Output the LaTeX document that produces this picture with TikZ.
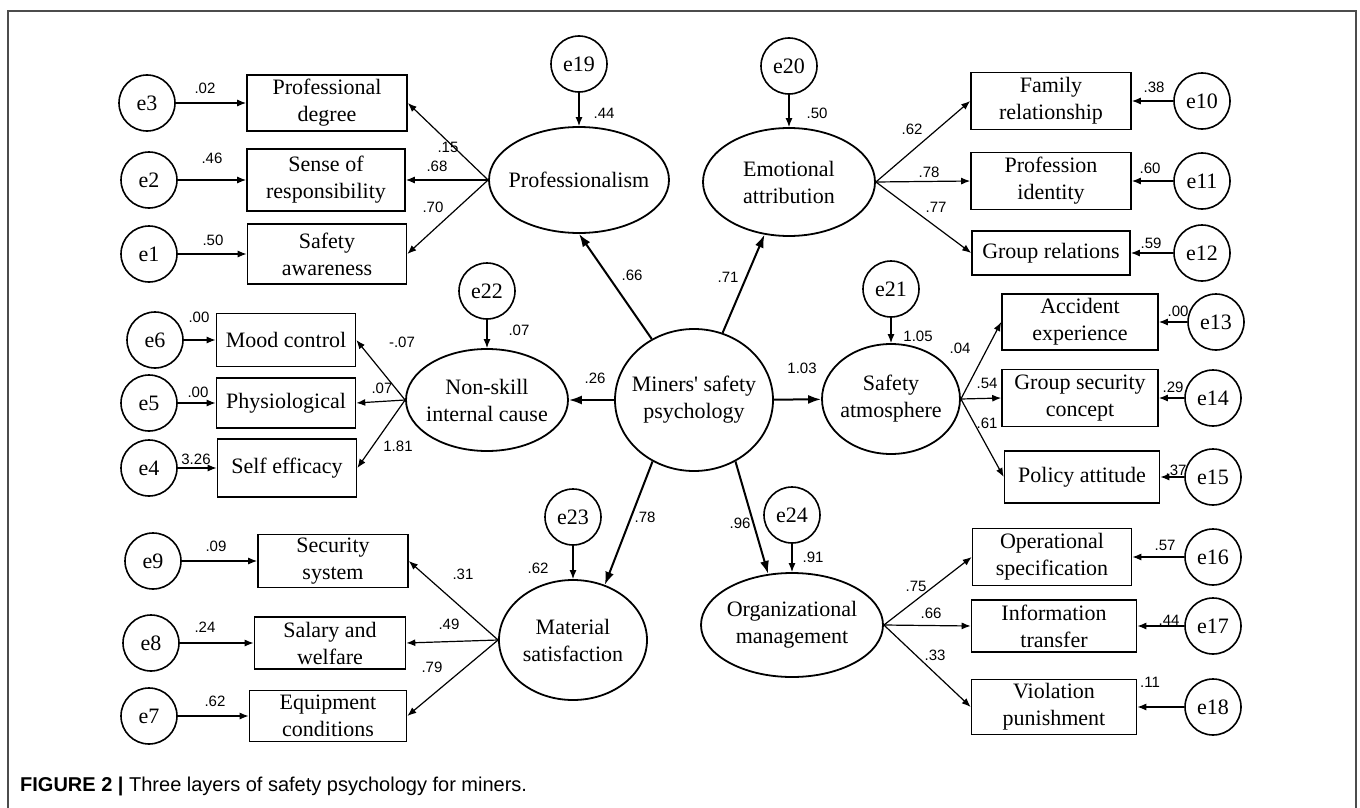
\documentclass[tikz,border=0pt]{standalone}
\usepackage{fontspec}
\setmainfont{Liberation Serif}
\newfontfamily\numfont{Liberation Sans}
\usetikzlibrary{arrows.meta}
\usetikzlibrary{shapes.geometric}

\begin{document}
\begin{tikzpicture}[x=1pt,y=-1pt,
    obs/.style={draw, line width=1.6pt, inner sep=0pt, align=center, font=\fontsize{22}{27}\selectfont},
    err/.style={draw, circle, line width=1.6pt, minimum size=56pt, inner sep=0pt, font=\fontsize{22}{27}\selectfont},
    lat/.style={draw, ellipse, line width=1.8pt, inner sep=-8pt, align=center, font=\fontsize{22}{27}\selectfont},
    num/.style={inner sep=0pt, font=\numfont\fontsize{15}{18}\selectfont},
    arr/.style={-{Latex[length=9pt,width=7pt]}, line width=1.2pt},
    struct/.style={-{Latex[length=13pt,width=9pt]}, line width=2pt}]
  \fill[white] (0,0) rectangle (1360,808);
  \useasboundingbox (0,0) rectangle (1360,808);
  \draw[gray!60!black, line width=1.3pt] (8,808) -- (8,11) -- (1356,11) -- (1356,808);

  % latent variables
  \node[lat, minimum width=158pt, minimum height=142pt] (cen) at (694,400) {Miners\textquotesingle\ safety\\psychology};
  \node[lat, minimum width=180pt, minimum height=106pt] (prof) at (579,180) {Professionalism};
  \node[lat, minimum width=172pt, minimum height=108pt] (emo) at (789,182) {Emotional\\attribution};
  \node[lat, minimum width=162pt, minimum height=102pt] (nonskill) at (487,400) {Non-skill\\internal cause};
  \node[lat, minimum width=138pt, minimum height=110pt] (safe) at (891,399) {Safety\\atmosphere};
  \node[lat, minimum width=148pt, minimum height=120pt] (mat) at (573,640) {Material\\satisfaction};
  \node[lat, minimum width=182pt, minimum height=104pt] (org) at (792,625) {Organizational\\management};

  % observed variables
  \node[obs, minimum width=160pt, minimum height=56pt] (pdeg) at (327,103) {Professional\\degree};
  \node[obs, minimum width=158pt, minimum height=62pt] (sresp) at (326,180) {Sense of\\responsibility};
  \node[obs, minimum width=159pt, minimum height=60pt] (saware) at (327,254) {Safety\\awareness};
  \node[obs, minimum width=139pt, minimum height=53pt] (mood) at (286,340) {Mood control};
  \node[obs, minimum width=139pt, minimum height=50pt] (phys) at (286,403) {Physiological};
  \node[obs, minimum width=139pt, minimum height=58pt] (selfeff) at (287,468) {Self efficacy};
  \node[obs, minimum width=150pt, minimum height=53pt] (secsys) at (333,561) {Security\\system};
  \node[obs, minimum width=151pt, minimum height=52pt] (salary) at (330,643) {Salary and\\welfare};
  \node[obs, minimum width=157pt, minimum height=51pt] (equip) at (328,716) {Equipment\\conditions};
  \node[obs, minimum width=160pt, minimum height=57pt] (family) at (1051,101) {Family\\relationship};
  \node[obs, minimum width=160pt, minimum height=57pt] (profid) at (1051,181) {Profession\\identity};
  \node[obs, minimum width=158pt, minimum height=44pt] (grouprel) at (1051,253) {Group relations};
  \node[obs, minimum width=156pt, minimum height=56pt] (accid) at (1080,322) {Accident\\experience};
  \node[obs, minimum width=156pt, minimum height=57pt] (groupsec) at (1080,398) {Group security\\concept};
  \node[obs, minimum width=155pt, minimum height=52pt] (policy) at (1082,477) {Policy attitude};
  \node[obs, minimum width=159pt, minimum height=57pt] (opspec) at (1052,557) {Operational\\specification};
  \node[obs, minimum width=165pt, minimum height=52pt] (info) at (1054,626) {Information\\transfer};
  \node[obs, minimum width=165pt, minimum height=55pt] (viol) at (1054,707) {Violation\\punishment};

  % error terms
  \foreach \n/\x/\y in {3/147/103, 2/149/180, 1/149/254, 6/155/340, 5/149/403, 4/149/468,
      9/153/561, 8/151/643, 7/149/716, 10/1202/101, 11/1202/181, 12/1202/253,
      13/1216/322, 14/1213/398, 15/1213/477, 16/1213/557, 17/1213/626, 18/1213/707,
      19/579/64, 20/789/66, 21/891/289, 22/487/291, 23/573/517, 24/792/515}
    \node[err] (e\n) at (\x,\y) {e\n};

  \foreach \a/\b in {e3/pdeg, e2/sresp, e1/saware, e6/mood, e5/phys, e4/selfeff,
      e9/secsys, e8/salary, e7/equip, e10/family, e11/profid, e12/grouprel,
      e13/accid, e14/groupsec, e15/policy, e16/opspec, e17/info, e18/viol,
      e19/prof, e20/emo, e21/safe, e22/nonskill, e23/mat, e24/org}
    \draw[arr] (\a) -- (\b);

  \foreach \b in {pdeg, sresp, saware}
    \draw[arr] (prof.west) -- (\b.east);
  \foreach \b in {mood, phys, selfeff}
    \draw[arr] (nonskill.west) -- (\b.east);
  \foreach \b in {secsys, salary, equip}
    \draw[arr] (mat.west) -- (\b.east);
  \foreach \b in {family, profid, grouprel}
    \draw[arr] (emo.east) -- (\b.west);
  \foreach \b in {accid, groupsec, policy}
    \draw[arr] (safe.east) -- (\b.west);
  \foreach \b in {opspec, info, viol}
    \draw[arr] (org.east) -- (\b.west);

  \draw[struct] (cen) -- (prof.south);
  \draw[struct] (cen) -- (emo.245);
  \draw[struct] (cen) -- (nonskill);
  \draw[struct] (cen) -- (safe);
  \draw[struct] (cen.236) -- (mat.60);
  \draw[struct] (cen.304) -- (org.115);

  % estimates
  \foreach \t/\x/\y [count=\i] in {.02/205/88, .46/212/158, .50/213/240, .00/199/317, .00/198/392,
      3.26/196/459, .09/216/546, .24/205/627, .62/215/701,
      .15/448/147, .68/437/166, .70/433/207, -.07/402/342, .07/382/388, 1.81/398/446,
      .31/463/574, .49/449/624, .79/432/667,
      .62/912/129, .78/929/172, .77/936/207, .04/960/348, .54/987/383, .61/987/423,
      .75/916/586, .66/931/613, .33/935/655,
      .38/1154/87, .60/1150/168, .59/1151/243, .00/1178/311, .29/1173/387, .37/1176/470,
      .57/1165/545, .44/1169/620, .11/1150/682,
      .44/604/113, .50/817/113, 1.05/918/336, .07/519/330, .62/538/568, .91/813/557,
      .66/632/275, .71/728/277, .26/595/378, 1.03/802/368, .78/645/517, .96/740/523}
    \node[num] (w\i) at (\x,\y) {\t};

  \node[anchor=west, inner sep=0pt, font=\numfont\fontsize{20}{24}\selectfont] (cap) at (20,786)
    {\textbf{FIGURE 2 |} Three layers of safety psychology for miners.};
\end{tikzpicture}
\end{document}
